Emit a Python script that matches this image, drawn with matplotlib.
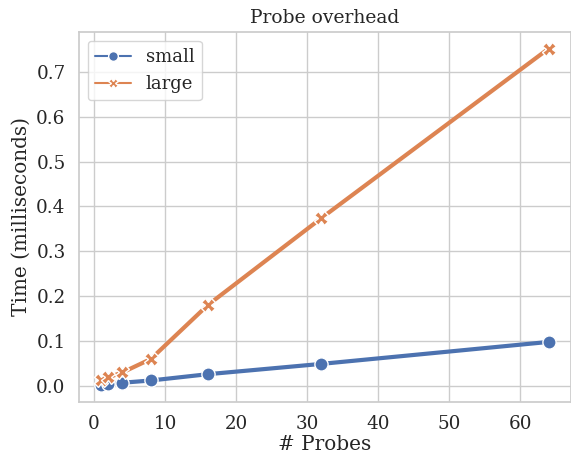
import matplotlib.pyplot as plt
import seaborn as sns
from matplotlib.lines import Line2D

probes = [1, 2, 4, 8, 16, 32, 64]
small = [0.002, 0.004, 0.007, 0.012, 0.026, 0.049, 0.098]
large = [0.013, 0.019, 0.030, 0.060, 0.180, 0.374, 0.752]

sns.set_theme(style="whitegrid", font="serif", font_scale=1.2)
plt.rcParams["font.family"] = ["DejaVu Serif"]

blue, orange = sns.color_palette()[0], sns.color_palette()[1]

fig, ax = plt.subplots(figsize=(5.71, 4.54), dpi=100)
ax.plot(probes, small, color=blue, linewidth=3, marker="o", markersize=9.5,
        markeredgecolor="white", markeredgewidth=1)
ax.plot(probes, large, color=orange, linewidth=3, marker="X", markersize=9.5,
        markeredgecolor="white", markeredgewidth=1)

handles = [
    Line2D([], [], color=blue, linewidth=1.5, marker="o", markersize=7,
           markeredgecolor="white", markeredgewidth=1),
    Line2D([], [], color=orange, linewidth=1.5, marker="X", markersize=7,
           markeredgecolor="white", markeredgewidth=1),
]
ax.legend(handles, ["small", "large"], loc="upper left", fontsize=13)

ax.set_title("Probe overhead", fontsize=13.5)
ax.set_xlabel("# Probes", labelpad=1.5)
ax.set_ylabel("Time (milliseconds)")
ax.set_xticks([0, 10, 20, 30, 40, 50, 60])
ax.set_yticks([0.0, 0.1, 0.2, 0.3, 0.4, 0.5, 0.6, 0.7])

fig.subplots_adjust(left=0.138, right=1.0, top=0.93, bottom=0.115)
fig.savefig("out.png")
